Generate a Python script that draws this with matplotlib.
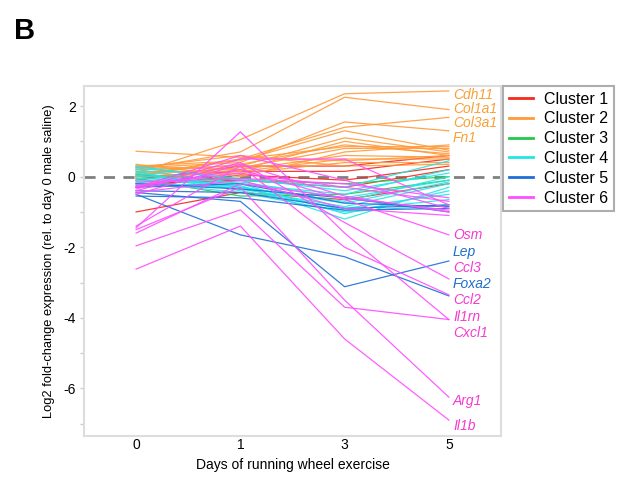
import matplotlib
matplotlib.use("Agg")
import matplotlib.pyplot as plt
import numpy as np

plt.rcParams['font.family'] = ['Liberation Sans', 'DejaVu Sans']
plt.rcParams['axes.unicode_minus'] = False

days = ["0", "1", "3", "5"]
cluster_names = ["Cluster 1", "Cluster 2", "Cluster 3", "Cluster 4", "Cluster 5", "Cluster 6"]
cluster_colors = ["#f5291c", "#ff9a3c", "#22c94a", "#22e6e6", "#1f6fd6", "#ff4dff"]

cluster1 = [
    [-1.00, -0.45, -0.65, -0.20],
    [-0.10, 0.30, 0.30, 0.60],
    [0.00, 0.15, 0.15, 0.50],
    [-0.20, -0.10, -0.30, 0.20],
    [-0.30, 0.05, -0.10, 0.30],
]
cluster2 = [
    [0.10, 1.05, 2.35, 2.43],   # Cdh11
    [0.20, 0.70, 2.25, 1.90],   # Col1a1
    [0.00, 0.50, 1.40, 1.68],   # Col3a1
    [0.25, 0.40, 1.55, 1.30],   # Fn1
    [0.72, 0.55, 0.45, 0.60],
    [0.30, 0.45, 1.30, 0.75],
    [0.20, 0.30, 1.10, 0.70],
    [0.10, 0.35, 0.90, 0.65],
    [0.05, 0.25, 0.80, 0.80],
    [0.30, 0.20, 0.60, 0.55],
    [0.15, 0.15, 0.50, 0.50],
    [0.00, 0.10, 0.40, 0.40],
    [0.25, 0.60, 0.30, 0.35],
    [0.35, 0.00, 0.70, 0.90],
    [-0.10, 0.20, 1.00, 0.60],
    [0.05, 0.50, 0.85, 0.85],
]
cluster3 = [
    [-0.05, -0.55, -0.50, -0.10],
    [0.05, -0.10, -0.20, 0.00],
]
cluster4 = [
    [0.30, -0.10, -0.30, 0.45],
    [0.20, -0.20, -0.50, 0.20],
    [0.10, -0.30, -0.70, 0.00],
    [0.00, -0.35, -0.85, -0.20],
    [-0.10, -0.20, -1.05, -0.40],
    [-0.20, -0.25, -1.20, -0.30],
    [0.15, -0.40, -0.90, -0.50],
    [-0.05, -0.15, -0.60, -0.10],
    [0.05, -0.30, -0.95, -0.65],
    [-0.15, -0.45, -1.00, -0.80],
    [0.25, -0.05, -0.40, 0.10],
    [-0.25, -0.30, -0.75, -0.15],
]
cluster5 = [
    [-0.50, -1.65, -2.27, -3.38],   # Foxa2
    [-0.45, -0.70, -3.12, -2.39],   # Lep
    [-0.30, -0.20, -0.75, -0.85],
    [-0.40, -0.45, -0.90, -0.80],
    [-0.55, -0.60, -0.95, -0.90],
    [-0.20, -0.35, -0.60, -1.00],
]
cluster6 = [
    [-2.62, -1.40, -4.60, -6.90],   # Il1b
    [-1.50, -0.30, -3.50, -6.25],   # Arg1
    [-1.96, -0.94, -3.70, -4.05],   # Il1rn
    [-1.45, 1.27, -1.60, -4.05],    # Cxcl1
    [-1.40, 0.30, -2.00, -3.35],    # Ccl2
    [-0.40, 0.40, -1.30, -2.90],    # Ccl3
    [-0.30, 0.20, -0.65, -1.65],    # Osm
    [-0.35, 0.50, 0.50, -0.80],
    [-0.45, -0.10, -0.90, -1.10],
    [-0.25, 0.10, -0.30, -0.70],
    [-0.50, 0.35, -0.55, -1.00],
    [-0.15, -0.05, -0.20, -0.60],
    [-0.30, 0.60, -0.10, -0.90],
    [-1.60, -0.20, -0.60, -0.95],
]
clusters = [cluster1, cluster2, cluster3, cluster4, cluster5, cluster6]

label_genes = ["Cdh11", "Col1a1", "Col3a1", "Fn1", "Osm", "Lep", "Ccl3",
               "Foxa2", "Ccl2", "Il1rn", "Cxcl1", "Arg1", "Il1b"]
label_cluster = [2, 2, 2, 2, 6, 5, 6, 5, 6, 6, 6, 6, 6]
label_y = [2.31, 1.92, 1.52, 1.10, -1.65, -2.13, -2.59, -3.04, -3.50,
           -3.98, -4.43, -6.35, -7.06]
label_colors = {2: "#f7a035", 5: "#1f6fc8", 6: "#f53ad0"}

yticks = [2, 0, -2, -4, -6]
yminor = [1, -1, -3, -5, -7]

fig = plt.figure(figsize=(6.22, 4.79), dpi=100)
ax = fig.add_axes([0.135, 0.0898, 0.6705, 0.7307])

x = np.arange(len(days))
ax.axhline(0, color="#808080", lw=2, ls=(0, (4, 3)), zorder=1)
for ci, (data, col) in enumerate(zip(clusters, cluster_colors)):
    for k, row in enumerate(data):
        ax.plot(x, row, color=col, lw=0.9, alpha=0.9, zorder=2,
                label=cluster_names[ci] if k == 0 else None)

for g, c, yv in zip(label_genes, label_cluster, label_y):
    ax.text(3.04, yv, g, color=label_colors[c], fontsize=10, style="italic",
            ha="left", va="center", clip_on=False)

ax.set_xlim(-0.5, 3.5)
ax.set_ylim(-7.35, 2.57)
ax.set_xticks(x)
ax.set_xticklabels(days)
ax.set_yticks(yticks)
ax.set_yticks(yminor, minor=True)
ax.tick_params(axis="x", length=0, labelsize=10, pad=1.5)
ax.tick_params(axis="y", which="both", length=3, color="#cccccc", width=1,
               labelsize=10, pad=3)
for s in ax.spines.values():
    s.set_color("#dddddd")
    s.set_linewidth(1.5)
ax.set_xlabel("Days of running wheel exercise", fontsize=10, labelpad=4)
ax.set_ylabel("Log2 fold-change expression (rel. to day 0 male saline)",
              fontsize=9.3, labelpad=6)

leg = ax.legend(loc="upper left", bbox_to_anchor=(0.8087, 0.8205),
                bbox_transform=fig.transFigure, fontsize=11.5, frameon=True,
                fancybox=False, handlelength=1.5, handletextpad=0.7,
                labelspacing=0.3, borderpad=0.35, borderaxespad=0)
for h in leg.get_lines():
    h.set_linewidth(2)
    h.set_alpha(1)
leg.get_frame().set_edgecolor("#999999")
leg.get_frame().set_linewidth(1.5)

fig.text(0.022, 0.965, "B", fontsize=21, fontweight="bold", va="top", ha="left")

fig.savefig("out.png", dpi=100)
